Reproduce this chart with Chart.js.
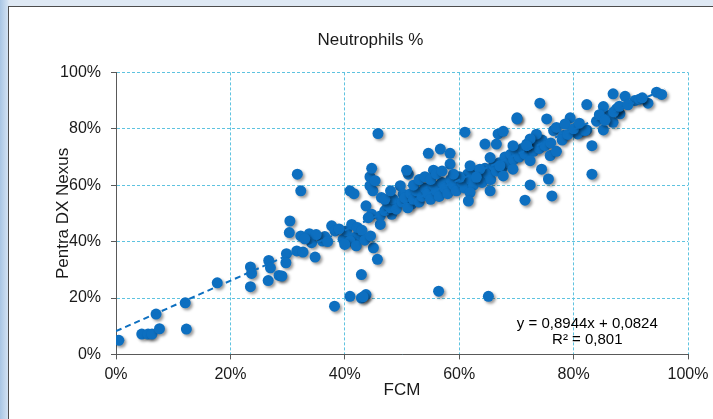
<!DOCTYPE html>
<html>
<head>
<meta charset="utf-8">
<script src="https://cdn.jsdelivr.net/npm/chart.js@4"></script>
<style>
  html, body { margin: 0; padding: 0; overflow: hidden; }
  body {
    width: 713px; height: 419px;
    background: linear-gradient(to right, #a9c6e4 0px, #d3e2f2 8px, #dfe9f4 9px);
  }
  #frame {
    position: absolute; left: 8px; top: 6px; width: 740px; height: 430px;
    background: #fff; border: 1px solid #4d4d4d;
  }
  #wrap { position: absolute; left: 9px; top: 7px; width: 726px; height: 412px; }
</style>
</head>
<body>
<div id="frame"></div>
<div id="wrap"><canvas id="chart"></canvas></div>
<script>
// FCM (x) vs Pentra DX Nexus (y), percent
const fcm = [
  0.5, 4.5, 5.6, 6.3, 7.6, 7.0, 12.1, 12.3, 17.7, 23.5, 23.5, 23.7, 26.6, 26.7, 27.0, 28.5, 29.8, 29.7, 31.6, 29.0,
  30.4, 30.3, 31.7, 32.3, 32.3, 33.8, 34.2, 32.7, 34.8, 36.1, 37.7, 38.3, 39.7, 40.3, 41.2, 41.5, 42.4, 41.8, 40.9, 41.6,
  40.9, 45.0, 45.7, 42.9, 40.9, 42.9, 43.7, 43.2, 38.2, 43.7, 44.7, 46.2, 46.2, 44.1, 44.4, 44.4, 44.9, 46.4, 48.2, 49.7,
  49.1, 50.2, 51.1, 51.7, 45.8, 44.7, 45.3, 42.2, 43.0, 39.0, 40.0, 42.0, 36.5, 35.0, 33.0, 37.0, 43.5, 44.5,
  47.0, 47.5, 48.0, 48.5, 49.0, 50.0, 50.5, 51.0, 51.5, 52.0, 52.5, 53.0, 53.5, 54.0, 54.5, 55.0, 55.5, 56.0, 56.5, 57.0,
  57.5, 58.0, 58.5, 59.0, 59.5, 60.0, 60.5, 61.0, 61.5, 62.0, 62.5, 63.0, 63.5, 64.0, 64.5, 65.0, 65.5, 66.0, 66.5, 67.0,
  67.5, 68.0, 68.5, 69.0, 69.5, 70.0, 70.5, 71.0, 71.5, 72.0, 73.0, 73.5, 74.0, 74.5, 75.0,
  50.8, 54.6, 56.7, 58.4, 58.4, 55.5, 61.0, 66.8, 67.7, 64.5, 66.5, 69.4, 71.8, 72.4, 65.4, 61.9, 63.6, 67.1, 69.4, 63.0,
  67.7, 65.4, 72.4, 71.5, 61.9, 61.6, 60.1, 59.0, 70.1, 56.4, 65.1, 52.0, 53.0, 54.0, 55.0, 56.0, 57.0, 47.0, 48.0,
  74.1, 70.1, 73.5, 72.4, 71.8, 75.9, 74.4, 75.6, 76.2, 76.5, 75.3, 77.0, 78.2, 79.4, 78.5, 81.1, 82.3, 84.0, 86.1, 85.2,
  86.9, 88.1, 83.2, 83.2, 82.3, 85.2, 87.5, 86.9, 89.0, 90.7, 93.0, 94.5, 95.4, 80.7, 82.0, 76.0, 77.0, 78.0, 79.0, 80.0,
  81.0, 84.5, 85.5, 87.0, 88.0, 89.5, 91.5, 92.0
];
const pentra = [
  5.0, 7.2, 7.2, 7.2, 9.1, 14.3, 18.3, 9.0, 25.4, 24.0, 31.0, 28.7, 26.2, 33.3, 30.7, 28.0, 35.7, 32.5, 36.7, 27.8,
  47.3, 43.2, 63.9, 58.0, 42.0, 42.8, 39.6, 36.3, 34.5, 40.2, 45.6, 43.8, 40.8, 43.8, 46.1, 41.4, 42.6, 39.6, 58.0, 57.0,
  40.2, 37.8, 33.7, 28.3, 20.6, 20.0, 21.2, 20.4, 17.1, 52.7, 49.7, 49.1, 46.1, 48.5, 63.0, 59.8, 58.0, 55.6, 49.7, 59.8,
  53.3, 56.8, 63.9, 53.3, 78.3, 66.0, 61.6, 45.0, 44.0, 44.5, 39.0, 38.5, 41.8, 42.5, 41.0, 40.0, 40.5, 42.0,
  51.0, 53.0, 52.0, 55.0, 51.5, 54.0, 55.5, 52.0, 57.0, 55.0, 58.0, 54.0, 56.0, 59.0, 57.0, 55.0, 60.0, 58.0, 56.0, 61.0,
  59.0, 57.0, 62.0, 60.0, 58.0, 63.0, 61.0, 59.0, 64.0, 62.0, 60.0, 65.0, 63.0, 61.0, 66.0, 64.0, 62.0, 67.0, 65.0, 68.0,
  66.0, 70.0, 68.0, 71.0, 69.0, 72.0, 70.0, 73.0, 71.0, 74.0, 72.0, 75.0, 73.0, 76.0, 74.0,
  65.3, 71.3, 72.8, 71.3, 67.5, 65.3, 78.8, 78.2, 79.1, 74.6, 74.6, 74.0, 74.6, 68.7, 69.8, 66.9, 65.7, 66.9, 65.7, 62.8,
  63.3, 58.0, 60.1, 54.7, 57.4, 54.4, 62.8, 63.9, 83.9, 22.4, 20.6, 60.0, 62.0, 63.0, 62.0, 64.0, 65.0, 55.0, 58.0,
  89.1, 83.5, 78.1, 76.4, 74.0, 70.5, 65.7, 62.2, 56.2, 79.4, 83.5, 80.5, 77.6, 83.9, 81.7, 78.8, 79.6, 82.7, 84.7, 79.6,
  82.3, 85.3, 74.0, 63.9, 88.6, 87.9, 87.1, 92.4, 91.5, 90.0, 89.1, 93.0, 92.2, 78.2, 79.4, 75.0, 72.0, 76.0, 78.0, 80.0,
  82.0, 85.0, 83.0, 86.0, 88.0, 88.5, 90.5, 91.0
];
// linear trendline printed on the chart
const slope = 0.8944;
const intercept = 0.0824;
const trendX = [0, 96];
const equationLines = ['y = 0,8944x + 0,0824', 'R² = 0,801'];
const axisTicks = [0, 20, 40, 60, 80, 100];

const blue = '#0d6fc0';
const gridCyan = '#5fc3e0';
const axisGray = '#595959';
const font = 'Liberation Sans, Arial, sans-serif';

const points = fcm.map((x, i) => ({ x: x, y: pentra[i] }));
const trend = trendX.map(x => ({ x: x, y: (slope * x / 100 + intercept) * 100 }));

// soft drop shadow under the markers, like the Excel original
const shadowPlugin = {
  id: 'shadow',
  beforeDatasetDraw(chart, args) {
    if (args.index !== 1) return;
    const ctx = chart.ctx;
    ctx.save();
    ctx.shadowColor = 'rgba(0,0,0,0.4)';
    ctx.shadowBlur = 3;
    ctx.shadowOffsetX = 2;
    ctx.shadowOffsetY = 2;
  },
  afterDatasetDraw(chart, args) {
    if (args.index !== 1) return;
    chart.ctx.restore();
  }
};

const equationPlugin = {
  id: 'equation',
  afterDraw(chart) {
    const ctx = chart.ctx;
    const xs = chart.scales.x, ys = chart.scales.y;
    ctx.save();
    ctx.fillStyle = '#000';
    ctx.font = '15px ' + font;
    ctx.textAlign = 'center';
    ctx.textBaseline = 'middle';
    const cx = xs.getPixelForValue(82.4);
    ctx.fillText(equationLines[0], cx, ys.getPixelForValue(11.0));
    ctx.fillText(equationLines[1], cx, ys.getPixelForValue(5.0));
    ctx.restore();
  }
};

const scaleBase = {
  type: 'linear',
  min: 0,
  max: 100,
  afterBuildTicks: s => { s.ticks = axisTicks.map(v => ({ value: v })); },
  grid: {
    color: gridCyan,
    lineWidth: 1,
    tickColor: axisGray,
    tickLength: 5,
    tickBorderDash: [],
    tickWidth: 1
  },
  border: { display: true, color: axisGray, width: 1, dash: [3, 2] },
  ticks: {
    color: '#1a1a1a',
    font: { family: font, size: 16 },
    callback: v => v + '%'
  },
  title: {
    display: true,
    color: '#1a1a1a',
    font: { family: font, size: 17 },
    padding: { top: 0, bottom: 0 }
  }
};

new Chart(document.getElementById('chart'), {
  data: {
    datasets: [
      {
        type: 'line',
        data: trend,
        borderColor: blue,
        borderWidth: 2,
        borderDash: [6, 4],
        pointRadius: 0,
        fill: false
      },
      {
        type: 'scatter',
        data: points,
        backgroundColor: blue,
        borderColor: blue,
        borderWidth: 0,
        pointRadius: 5.5
      }
    ]
  },
  options: {
    responsive: true,
    maintainAspectRatio: false,
    animation: false,
    layout: { padding: { left: 44, right: 47, top: 23, bottom: 18 } },
    plugins: {
      legend: { display: false },
      tooltip: { enabled: false },
      title: {
        display: true,
        text: 'Neutrophils %',
        color: '#1a1a1a',
        font: { family: font, size: 17, weight: 'normal' },
        padding: { top: 0, bottom: 22 }
      }
    },
    scales: {
      x: Object.assign({}, scaleBase, {
        position: 'bottom',
        ticks: Object.assign({}, scaleBase.ticks, { padding: 6, maxRotation: 0 }),
        title: Object.assign({}, scaleBase.title, { text: 'FCM', padding: { top: -10, bottom: 0 } })
      }),
      y: Object.assign({}, scaleBase, {
        position: 'left',
        ticks: Object.assign({}, scaleBase.ticks, { padding: 10 }),
        title: Object.assign({}, scaleBase.title, { text: 'Pentra DX Nexus', padding: { top: 0, bottom: 4 } }),
        afterFit: s => { s.width = 63; }
      })
    }
  },
  plugins: [shadowPlugin, equationPlugin]
});
</script>
</body>
</html>
